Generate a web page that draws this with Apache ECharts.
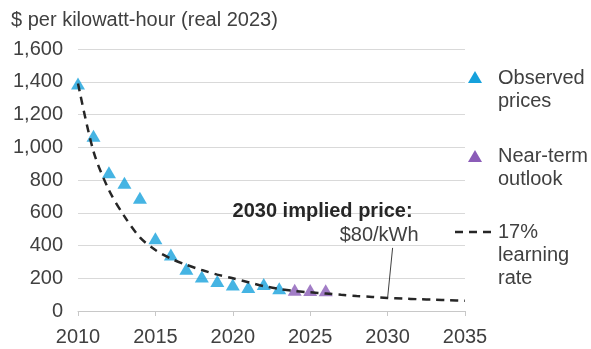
<!DOCTYPE html>
<html>
<head>
<meta charset="utf-8">
<script src="https://cdn.jsdelivr.net/npm/echarts@6/dist/echarts.min.js"></script>
<style>
  html, body { margin: 0; padding: 0; background: #ffffff; }
  #chart { width: 591px; height: 349px; }
</style>
</head>
<body>
<div id="chart"></div>
<script>
// Lithium-ion battery pack prices, $ per kWh (real 2023)
const observedYears = [2010, 2011, 2012, 2013, 2014, 2015, 2016, 2017, 2018, 2019, 2020, 2021, 2022, 2023];
const observedPrices = [1390, 1070, 848, 783, 692, 445, 345, 258, 210, 183, 162, 147, 165, 139];

const outlookYears = [2024, 2025, 2026];
const outlookPrices = [130, 128, 127];

// 17% learning-rate curve
const curveYears = [2010, 2011, 2012, 2013, 2014, 2015, 2016, 2017, 2018, 2019, 2020, 2021, 2022,
  2023, 2024, 2025, 2026, 2027, 2028, 2029, 2030, 2031, 2032, 2033, 2034, 2035];
const curvePrices = [1390, 975, 738, 578, 450, 372, 320, 282, 250, 222, 200, 176, 152,
  135, 122, 114, 107, 99, 92, 86, 80, 76, 72, 69, 66, 63];

const impliedYear = 2030;
const impliedPrice = 80;

const yTicks = { min: 0, max: 1600, step: 200 };
const xTicks = { min: 2010, max: 2035, step: 5 };

const FONT = "'Liberation Sans', Arial, sans-serif";
const TEXT = '#404040';
const BLUE = '#16a1dc';
const PURPLE = '#8b5cb8';

const pairs = (xs, ys) => xs.map((x, i) => [x, ys[i]]);

const chart = echarts.init(document.getElementById('chart'), null, { renderer: 'canvas' });

chart.setOption({
  animation: false,
  backgroundColor: '#ffffff',
  textStyle: { fontFamily: FONT },
  grid: { left: 78, right: 126, top: 49, bottom: 38 },
  xAxis: {
    type: 'value',
    min: xTicks.min, max: xTicks.max, interval: xTicks.step,
    axisLine: { show: true, lineStyle: { color: '#c8c8c8', width: 1 } },
    axisTick: { show: true, length: 5, lineStyle: { color: '#c8c8c8' } },
    splitLine: { show: false },
    axisLabel: { color: TEXT, fontSize: 20, fontFamily: FONT, margin: 16, formatter: v => String(v) }
  },
  yAxis: {
    type: 'value',
    min: yTicks.min, max: yTicks.max, interval: yTicks.step,
    axisLine: { show: false },
    axisTick: { show: false },
    splitLine: { lineStyle: { color: '#d9d9d9', width: 1 } },
    axisLabel: {
      color: TEXT, fontSize: 20, fontFamily: FONT, margin: 15,
      formatter: v => v.toLocaleString('en-US')
    }
  },
  series: [
    {
      name: 'Observed prices',
      type: 'scatter',
      symbol: 'triangle',
      symbolSize: [14, 12],
      itemStyle: { color: BLUE },
      z: 2,
      data: pairs(observedYears, observedPrices)
    },
    {
      name: 'Near-term outlook',
      type: 'scatter',
      symbol: 'triangle',
      symbolSize: [14, 12],
      itemStyle: { color: PURPLE },
      z: 2,
      data: pairs(outlookYears, outlookPrices)
    },
    {
      name: '17% learning rate',
      type: 'line',
      smooth: 0.3,
      showSymbol: false,
      lineStyle: { color: '#262626', width: 2.5, type: [8, 6] },
      z: 3,
      data: pairs(curveYears, curvePrices)
    }
  ]
});

// Title, legend and the 2030 annotation
const p = chart.convertToPixel({ xAxisIndex: 0, yAxisIndex: 0 }, [impliedYear, impliedPrice]);
const txt = (x, y, text, extra) => ({
  type: 'text', x, y,
  style: Object.assign({ text, fill: TEXT, font: '20px ' + FONT, textVerticalAlign: 'middle' }, extra || {})
});
const tri = (cx, cy, color) => ({
  type: 'polygon',
  shape: { points: [[cx, cy - 6], [cx + 7, cy + 6], [cx - 7, cy + 6]] },
  style: { fill: color }
});

chart.setOption({
  graphic: [
    txt(11, 20, '$ per kilowatt-hour (real 2023)'),
    tri(475, 77, BLUE),
    txt(498, 78, 'Observed'),
    txt(498, 101, 'prices'),
    tri(475, 156, PURPLE),
    txt(498, 156, 'Near-term'),
    txt(498, 179, 'outlook'),
    {
      type: 'line',
      shape: { x1: 455, y1: 232, x2: 497, y2: 232 },
      style: { stroke: '#262626', lineWidth: 2.5, lineDash: [8, 6] }
    },
    txt(498, 232, '17%'),
    txt(498, 255, 'learning'),
    txt(498, 278, 'rate'),
    txt(p[0] + 25, p[1] - 86, '2030 implied price:', {
      fill: '#262626', font: 'bold 20px ' + FONT, textAlign: 'right'
    }),
    txt(p[0] + 31, p[1] - 62, '$80/kWh', { textAlign: 'right' }),
    {
      type: 'line',
      shape: { x1: p[0] + 5, y1: p[1] - 50, x2: p[0], y2: p[1] },
      style: { stroke: '#404040', lineWidth: 1 }
    }
  ]
});
</script>
</body>
</html>
